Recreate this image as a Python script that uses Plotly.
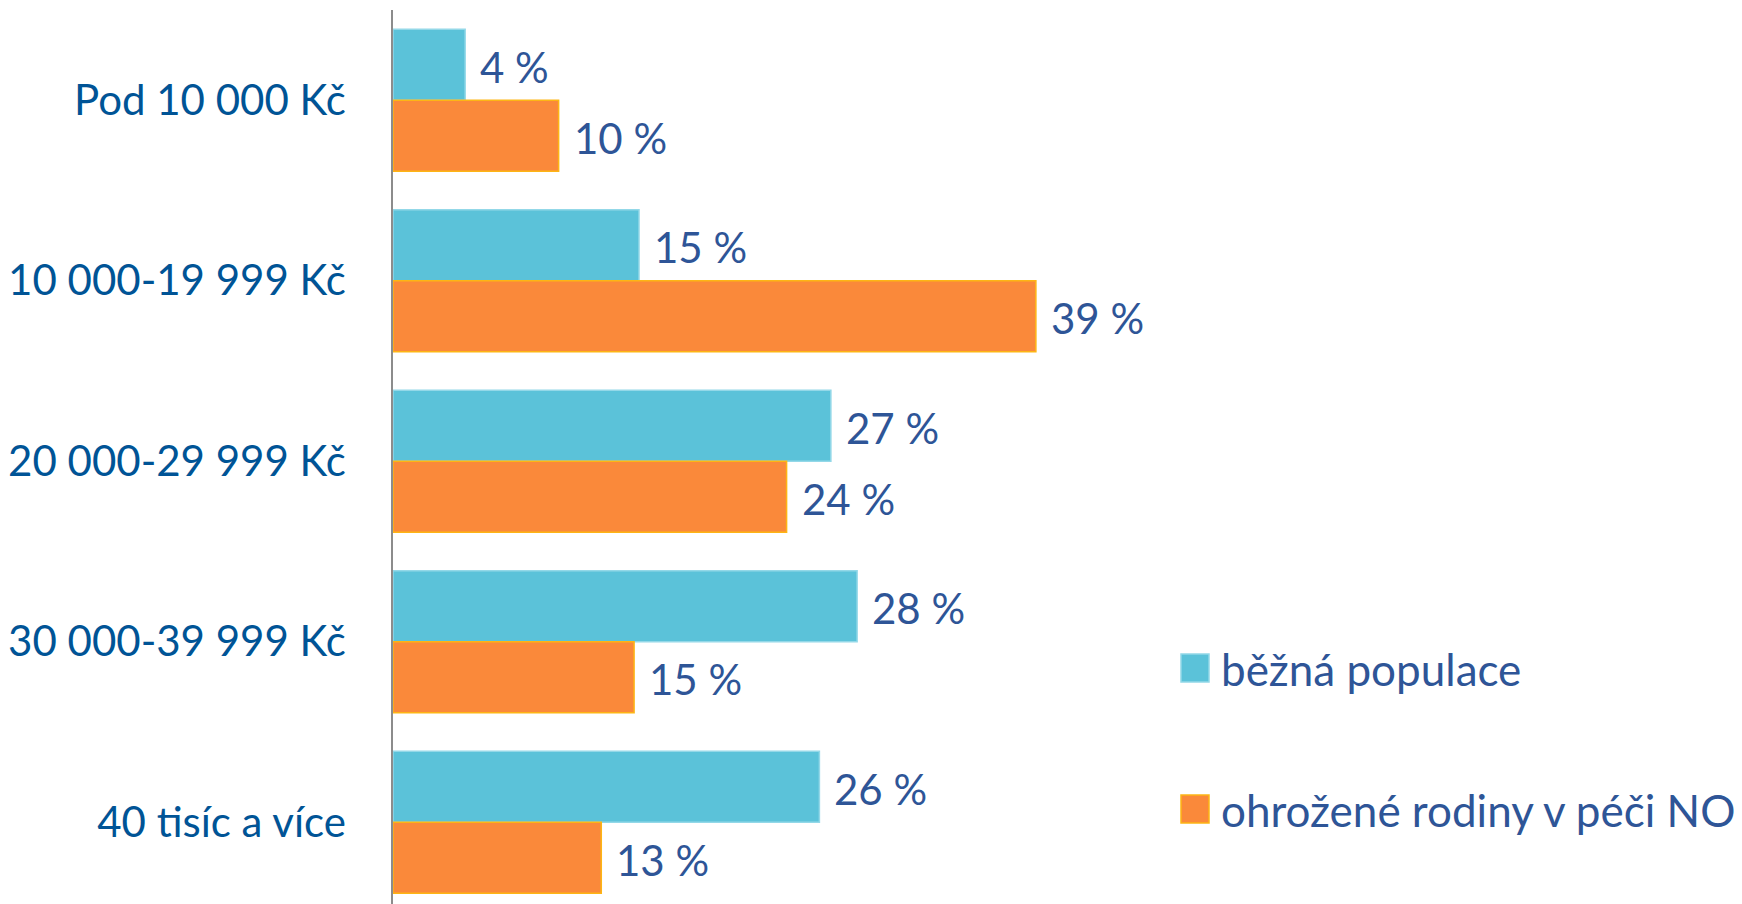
import plotly.graph_objects as go

categories = ["Pod 10 000 Kč", "10 000-19 999 Kč", "20 000-29 999 Kč", "30 000-39 999 Kč", "40 tisíc a více"]
series_names = ["běžná populace", "ohrožené rodiny v péči NO"]
bezna = [4.4, 15.0, 26.7, 28.3, 26.0]
ohrozene = [10.1, 39.2, 24.0, 14.7, 12.7]
bezna_labels = ["4 %", "15 %", "27 %", "28 %", "26 %"]
ohrozene_labels = ["10 %", "39 %", "24 %", "15 %", "13 %"]

CYAN = "#5BC2D9"
CYAN_LINE = "#93D8E8"
ORANGE = "#FA893A"
ORANGE_LINE = "#FDB515"
LABEL_COLOR = "#2E5597"
TICK_COLOR = "#005496"
FONT = "Lato"

W, H = 1742, 904
PAGE_OFF = 8  # default body margin of the html page
# desired screen positions
AXIS_X, PLOT_TOP = 393, 10
ML, MR, MT, MB = AXIS_X - PAGE_OFF, 0, PLOT_TOP - PAGE_OFF, 0
PX_PER_UNIT = 16.4
CAT_PX = 180.5
plot_w = W - ML - MR
plot_h = H - MT - MB
xmax = plot_w / PX_PER_UNIT
ybottom = -0.5 + plot_h / CAT_PX
BARGAP = 0.213

fig = go.Figure()
fig.add_trace(go.Bar(
    y=categories, x=bezna, orientation="h", name=series_names[0],
    marker=dict(color=CYAN, line=dict(color=CYAN_LINE, width=1.5)),
    showlegend=False, hoverinfo="x+y",
))
fig.add_trace(go.Bar(
    y=categories, x=ohrozene, orientation="h", name=series_names[1],
    marker=dict(color=ORANGE, line=dict(color=ORANGE_LINE, width=1.5)),
    showlegend=False, hoverinfo="x+y",
))

bar_h = CAT_PX * (1 - BARGAP) / 2
annotations = []
for vals, labels, ys in ((bezna, bezna_labels, bar_h / 2 - 2), (ohrozene, ohrozene_labels, -bar_h / 2 - 2)):
    for cat, v, t in zip(categories, vals, labels):
        annotations.append(dict(x=v, y=cat, text=t, xref="x", yref="y", xanchor="left",
                                yanchor="middle", xshift=13, yshift=ys, showarrow=False,
                                font=dict(family=FONT, size=42, color=LABEL_COLOR)))

def sx(px):
    return (px - PAGE_OFF - ML) / plot_w
def sy(py):
    return 1 - (py - PAGE_OFF - MT) / plot_h

shapes = []
legend_items = [(series_names[0], CYAN, CYAN_LINE, 654, 682), (series_names[1], ORANGE, ORANGE_LINE, 795, 823)]
for name, fc, lc, y0, y1 in legend_items:
    shapes.append(dict(type="rect", xref="paper", yref="paper",
                       x0=sx(1181), x1=sx(1209), y0=sy(y1), y1=sy(y0),
                       fillcolor=fc, line=dict(color=lc, width=1.5)))
    annotations.append(dict(x=sx(1219), y=sy((y0 + y1) / 2 + 1), xref="paper", yref="paper",
                            text=name, xanchor="left", yanchor="middle", showarrow=False,
                            font=dict(family=FONT, size=44, color=LABEL_COLOR)))

fig.update_layout(
    width=W, height=H,
    margin=dict(l=ML, r=MR, t=MT, b=MB),
    paper_bgcolor="white", plot_bgcolor="white",
    barmode="group", bargap=BARGAP, bargroupgap=0,
    font=dict(family=FONT, color=LABEL_COLOR),
    showlegend=False,
    annotations=annotations, shapes=shapes,
)

fig.update_xaxes(range=[0, xmax], visible=False, showgrid=False, zeroline=False, fixedrange=True)
fig.update_yaxes(
    range=[ybottom, -0.5], showgrid=False, zeroline=False,
    showline=True, linecolor="#8C8C8C", linewidth=1.5,
    ticks="", ticklabelstandoff=37,
    tickfont=dict(family=FONT, size=42, color=TICK_COLOR),
    fixedrange=True,
)

fig.write_html("out.html")
